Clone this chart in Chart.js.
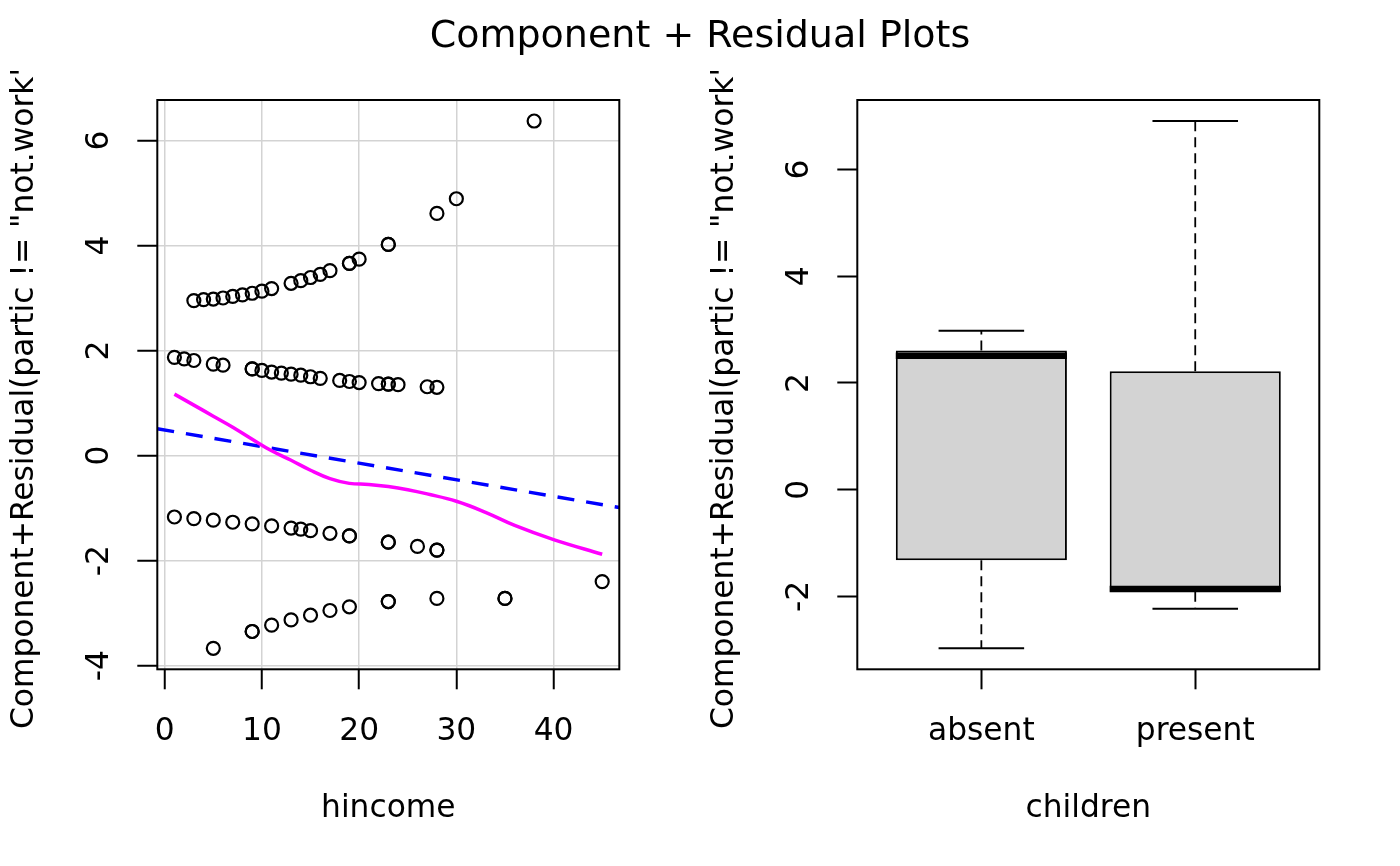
<!DOCTYPE html>
<html>
<head>
<meta charset="utf-8">
<script src="https://cdn.jsdelivr.net/npm/chart.js@4.4.1/dist/chart.umd.min.js"></script>
<style>
html,body{margin:0;padding:0;background:#fff;width:1400px;height:866px;overflow:hidden}
#w{position:relative;width:1400px;height:866px}
#b1{position:absolute;left:0;top:0;width:1400px;height:866px}
#b2{position:absolute;left:700px;top:0;width:700px;height:866px}
</style>
</head>
<body>
<div id="w">
  <div id="b1"><canvas id="c1"></canvas></div>
  <div id="b2"><canvas id="c2"></canvas></div>
</div>
<script>
// ---------- texts ----------
const chartTitle = 'Component + Residual Plots';
const yAxisTitle = 'Component+Residual(partic != "not.work")';
const leftXTitle = 'hincome';
const rightXTitle = 'children';

// ---------- left panel: hincome ----------
const hincome = [
  3,4,5,6,7,8,9,10,11,13,14,15,16,17,19,19,20,23,23,28,30,38,
  1,2,3,5,6,9,9,10,11,12,13,14,15,16,18,19,20,22,23,23,24,27,28,
  1,3,5,7,9,11,13,14,15,17,19,19,23,23,26,28,28,
  5,9,9,11,13,15,17,19,23,23,28,35,35,45
];
const partialResid = [
  2.95,2.97,2.98,3.00,3.03,3.06,3.09,3.13,3.18,3.28,3.33,3.39,3.45,3.52,3.66,3.66,3.74,4.02,4.02,4.61,4.89,6.37,
  1.87,1.84,1.81,1.74,1.72,1.65,1.65,1.62,1.59,1.57,1.55,1.53,1.50,1.47,1.43,1.41,1.39,1.37,1.36,1.36,1.35,1.31,1.30,
  -1.17,-1.20,-1.23,-1.27,-1.30,-1.34,-1.38,-1.40,-1.43,-1.48,-1.53,-1.53,-1.65,-1.65,-1.73,-1.80,-1.80,
  -3.67,-3.35,-3.35,-3.23,-3.13,-3.04,-2.95,-2.88,-2.78,-2.78,-2.72,-2.72,-2.72,-2.40
];
const smoothX = [1,3,5,7,9,11,13,15,17,19,21,23,25,27,30,33,36,40,45];
const smoothY = [1.17,0.96,0.75,0.54,0.31,0.09,-0.09,-0.28,-0.44,-0.53,-0.55,-0.59,-0.65,-0.73,-0.87,-1.08,-1.33,-1.60,-1.88];
const fitX = [-0.76, 46.76];
const fitY = [0.51, -0.99];
const leftXTicks = [0,10,20,30,40];
const leftYTicks = [-4,-2,0,2,4,6];
const leftXRange = [-0.76, 46.76];
const leftYRange = [-4.07, 6.77];

// ---------- right panel: children boxplot ----------
const groups = ['absent','present'];
const groupPos = [1, 2];
const whiskerLow = [-2.97, -2.23];
const q1 = [-1.32, -1.91];
const medians = [2.51, -1.86];
const q3 = [2.61, 2.22];
const whiskerHigh = [2.98, 6.91];
const rightYTicks = [-2,0,2,4,6];
const rightXRange = [0.42, 2.58];
const rightYRange = [-3.365, 7.302];

// ---------- layout constants ----------
const FONT = '31.3px "DejaVu Sans"';
const TITLE_FONT = '38px "DejaVu Sans"';
const PLOT_LEFT = 157.3, PLOT_TOP = 100, PLOT_BOTTOM = 669.3, PLOT_W = 462;
const TICK_LABEL_BASE = 740, XTITLE_BASE = 816.7, YTICK_BASE_X = 108.3, YTITLE_BASE_X = 33.3, YTITLE_START = 729, CLIP_TOP = 69;

Chart.defaults.font.family = '"DejaVu Sans"';
Chart.defaults.animation = false;

function annot(xLabelFn, xTitle, withTitle) {
  return {
    id: 'annot',
    afterDraw(chart) {
      const ctx = chart.ctx, ca = chart.chartArea;
      const xs = chart.scales.x, ys = chart.scales.y;
      ctx.save();
      ctx.strokeStyle = '#000';
      ctx.lineWidth = 2;
      ctx.strokeRect(ca.left, ca.top, ca.right - ca.left, ca.bottom - ca.top);
      ctx.fillStyle = '#000';
      if (withTitle) {
        ctx.font = TITLE_FONT;
        ctx.textAlign = 'center';
        ctx.textBaseline = 'middle';
        ctx.fillText(chartTitle, chart.width / 2, 37);
      }
      ctx.font = FONT;
      ctx.textAlign = 'center';
      ctx.textBaseline = 'alphabetic';
      xs.ticks.forEach(t => ctx.fillText(xLabelFn(t.value), xs.getPixelForValue(t.value), TICK_LABEL_BASE));
      ctx.fillText(xTitle, (ca.left + ca.right) / 2, XTITLE_BASE);
      ys.ticks.forEach(t => {
        ctx.save();
        ctx.translate(YTICK_BASE_X, ys.getPixelForValue(t.value));
        ctx.rotate(-Math.PI / 2);
        ctx.fillText(String(t.value), 0, 0);
        ctx.restore();
      });
      ctx.save();
      ctx.beginPath();
      ctx.rect(0, CLIP_TOP, chart.width, chart.height - CLIP_TOP);
      ctx.clip();
      ctx.translate(YTITLE_BASE_X, YTITLE_START);
      ctx.rotate(-Math.PI / 2);
      ctx.textAlign = 'left';
      ctx.fillText(yAxisTitle, 0, 0);
      ctx.restore();
      ctx.restore();
    }
  };
}

function tickSetter(arr) {
  return s => { s.ticks = arr.map(v => ({ value: v })); };
}

// ---------- left chart ----------
new Chart(document.getElementById('c1'), {
  type: 'scatter',
  data: {
    datasets: [
      {
        label: 'loess',
        data: smoothX.map((x, i) => ({ x, y: smoothY[i] })),
        showLine: true, pointRadius: 0, borderColor: '#ff00ff', borderWidth: 3.5,
        tension: 0.4, fill: false, order: 0
      },
      {
        label: 'linear fit',
        data: fitX.map((x, i) => ({ x, y: fitY[i] })),
        showLine: true, pointRadius: 0, borderColor: '#0000ff', borderWidth: 3.5,
        borderDash: [17, 12], fill: false, order: 1
      },
      {
        label: 'partial residuals',
        data: hincome.map((x, i) => ({ x, y: partialResid[i] })),
        showLine: false, pointStyle: 'circle', pointRadius: 6.5, pointBorderWidth: 2.2,
        pointBorderColor: '#000', pointBackgroundColor: 'rgba(0,0,0,0)', order: 2
      }
    ]
  },
  options: {
    responsive: true, maintainAspectRatio: false, animation: false,
    layout: { padding: { left: 0, top: PLOT_TOP, bottom: 0, right: 1400 - PLOT_LEFT - PLOT_W } },
    plugins: { legend: { display: false }, tooltip: { enabled: false } },
    scales: {
      x: {
        type: 'linear', min: leftXRange[0], max: leftXRange[1],
        afterBuildTicks: tickSetter(leftXTicks),
        afterFit: s => { s.height = 866 - PLOT_BOTTOM; },
        ticks: { display: false },
        grid: { color: '#d3d3d3', lineWidth: 1.5, tickLength: 20, tickColor: '#000', tickWidth: 2 },
        border: { display: false }
      },
      y: {
        type: 'linear', min: leftYRange[0], max: leftYRange[1],
        afterBuildTicks: tickSetter(leftYTicks),
        afterFit: s => { s.width = PLOT_LEFT; },
        ticks: { display: false },
        grid: { color: '#d3d3d3', lineWidth: 1.5, tickLength: 20, tickColor: '#000', tickWidth: 2 },
        border: { display: false }
      }
    }
  },
  plugins: [annot(v => String(v), leftXTitle, true)]
});

// ---------- right chart ----------
const BOX_FRAC = 0.8, STAPLE_FRAC = 0.5;
const rightSets = [
  {
    type: 'bar', label: 'box',
    data: groupPos.map((x, i) => ({ x, y: [q1[i], q3[i]] })),
    backgroundColor: '#d3d3d3', borderColor: '#000', borderWidth: 2, borderSkipped: false,
    barPercentage: 1, categoryPercentage: BOX_FRAC, order: 10
  }
];
groupPos.forEach((p, i) => {
  const halfBox = BOX_FRAC / 2, halfCap = BOX_FRAC * STAPLE_FRAC / 2;
  const seg = (pts, extra) => Object.assign({
    type: 'line', data: pts, pointRadius: 0, borderColor: '#000', fill: false, tension: 0
  }, extra);
  rightSets.push(seg([{ x: p, y: q3[i] }, { x: p, y: whiskerHigh[i] }], { borderWidth: 1.8, borderDash: [10, 6], order: 5 }));
  rightSets.push(seg([{ x: p, y: q1[i] }, { x: p, y: whiskerLow[i] }], { borderWidth: 1.8, borderDash: [10, 6], order: 5 }));
  rightSets.push(seg([{ x: p - halfCap, y: whiskerHigh[i] }, { x: p + halfCap, y: whiskerHigh[i] }], { borderWidth: 2, order: 4 }));
  rightSets.push(seg([{ x: p - halfCap, y: whiskerLow[i] }, { x: p + halfCap, y: whiskerLow[i] }], { borderWidth: 2, order: 4 }));
  rightSets.push(seg([{ x: p - halfBox, y: medians[i] }, { x: p + halfBox, y: medians[i] }], { borderWidth: 6.7, order: 0 }));
});

new Chart(document.getElementById('c2'), {
  type: 'bar',
  data: { datasets: rightSets },
  options: {
    responsive: true, maintainAspectRatio: false, animation: false,
    layout: { padding: { left: 0, top: PLOT_TOP, bottom: 0, right: 700 - PLOT_LEFT - PLOT_W } },
    plugins: { legend: { display: false }, tooltip: { enabled: false } },
    scales: {
      x: {
        type: 'linear', min: rightXRange[0], max: rightXRange[1], offset: false,
        afterBuildTicks: tickSetter(groupPos),
        afterFit: s => { s.height = 866 - PLOT_BOTTOM; },
        ticks: { display: false },
        grid: { offset: false, drawOnChartArea: false, tickLength: 20, tickColor: '#000', tickWidth: 2, color: '#000' },
        border: { display: false }
      },
      y: {
        type: 'linear', min: rightYRange[0], max: rightYRange[1], beginAtZero: false,
        afterBuildTicks: tickSetter(rightYTicks),
        afterFit: s => { s.width = PLOT_LEFT; },
        ticks: { display: false },
        grid: { drawOnChartArea: false, tickLength: 20, tickColor: '#000', tickWidth: 2, color: '#000' },
        border: { display: false }
      }
    }
  },
  plugins: [annot(v => groups[groupPos.indexOf(v)], rightXTitle, false)]
});
</script>
</body>
</html>
